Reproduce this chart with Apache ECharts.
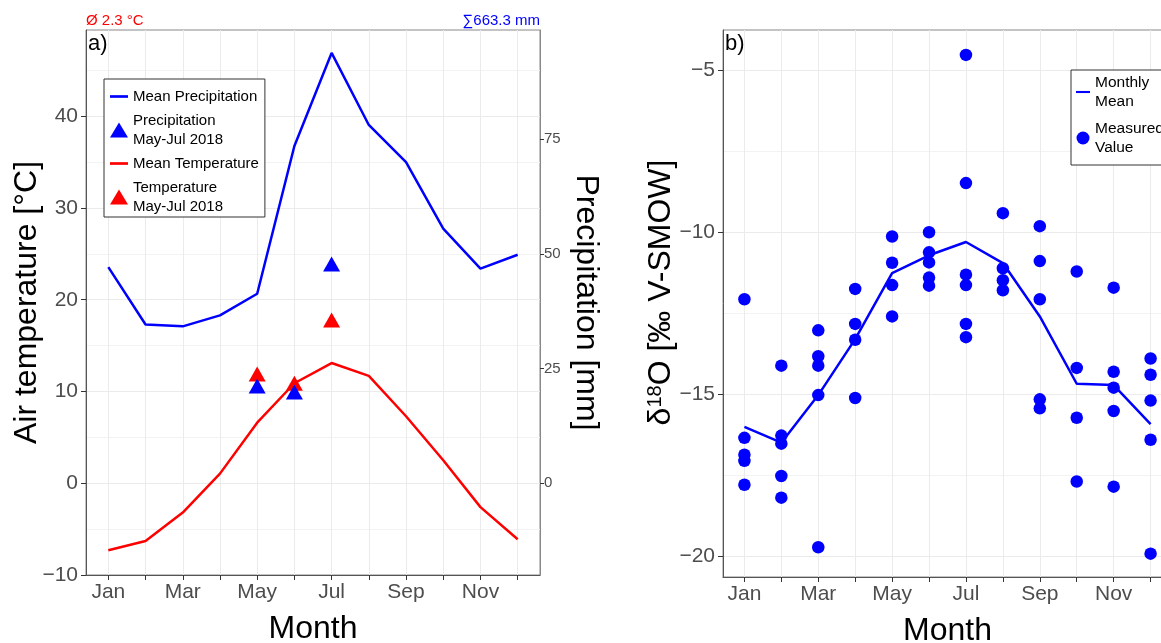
<!DOCTYPE html>
<html>
<head>
<meta charset="utf-8">
<script src="https://cdn.jsdelivr.net/npm/echarts@6.0.0/dist/echarts.min.js"></script>
<style>
html, body { margin: 0; padding: 0; background: #fff; }
#chart { width: 1161px; height: 643px; }
</style>
</head>
<body>
<div id="chart"></div>
<script>
// ---- data ----
const months = [1, 2, 3, 4, 5, 6, 7, 8, 9, 10, 11, 12]
const monthNames = ['Jan', 'Feb', 'Mar', 'Apr', 'May', 'Jun', 'Jul', 'Aug', 'Sep', 'Oct', 'Nov', 'Dec']
const labelMonths = [1, 3, 5, 7, 9, 11]

// panel a) climate
const meanTemp = [-7.3, -6.3, -3.2, 1.05, 6.6, 10.9, 13.1, 11.7, 7.3, 2.5, -2.6, -6.1]
const meanPrecip = [47.1, 34.6, 34.2, 36.6, 41.3, 73.5, 93.8, 78.1, 70.0, 55.5, 46.8, 49.8]
const obsMonths = [5, 6, 7]
const temp2018 = [11.9, 10.9, 17.8]
const precip2018 = [21.2, 19.9, 47.8]
const tempTicks = [-10, 0, 10, 20, 30, 40]
const tempMinor = [-5, 5, 15, 25, 35, 45]
const precipTicks = [0, 25, 50, 75]
const summaryTemp = 'Ø 2.3 °C'
const summaryPrecip = '∑663.3 mm'

// panel b) d18O
const isoMean = [-16.01, -16.5, -15.03, -13.3, -11.26, -10.71, -10.3, -10.95, -12.6, -14.68, -14.72, -15.93]
const isoMeasured = [
  [-12.07, -16.35, -16.87, -17.06, -17.8],
  [-14.12, -16.28, -16.53, -17.53, -18.2],
  [-13.03, -13.83, -14.12, -15.03, -19.73],
  [-11.75, -12.83, -13.32, -15.12],
  [-10.13, -10.94, -11.63, -12.6],
  [-10.0, -10.62, -10.93, -11.4, -11.65],
  [-4.52, -8.48, -11.31, -11.63, -12.83, -13.24],
  [-9.41, -11.11, -11.48, -11.79],
  [-9.81, -10.89, -12.07, -15.16, -15.44],
  [-11.21, -14.19, -15.73, -17.7],
  [-11.71, -14.31, -14.8, -15.52, -17.86],
  [-13.9, -14.4, -15.2, -16.41, -19.93]
]
const isoTicks = [-20, -15, -10, -5]
const isoMinor = [-17.5, -12.5, -7.5]

const legendText = {
  'Mean Precipitation': 'Mean Precipitation',
  'Precipitation 2018': 'Precipitation\nMay-Jul 2018',
  'Mean Temperature': 'Mean Temperature',
  'Temperature 2018': 'Temperature\nMay-Jul 2018',
  'Monthly Mean': 'Monthly\nMean',
  'Measured Value': 'Measured\nValue'
}

// ---- chart ----
const font = 'Liberation Sans, Arial, sans-serif'
const blue = '#0000ff'
const red = '#ff0000'
const linePath = 'path://M0,0L20,0L20,3L0,3Z'
const minus = v => String(v).replace('-', '\u2212')

const monthAxis = (grid, min, max) => ({
  type: 'value', gridIndex: grid, min: min, max: max,
  axisLine: { show: true, onZero: false, lineStyle: { color: '#555' } },
  axisTick: { show: true, length: 5, customValues: months, lineStyle: { color: '#333' } },
  axisLabel: { customValues: labelMonths, formatter: v => monthNames[v - 1], fontSize: 21, color: '#4d4d4d', margin: 7, fontFamily: font },
  splitLine: { show: true, customValues: months, lineStyle: { color: '#ebebeb' } },
  name: 'Month', nameLocation: 'middle', nameGap: 38, nameMoveOverlap: false,
  nameTextStyle: { fontSize: 32, color: '#000', fontFamily: font }
})

// hidden axis that only draws the lighter minor grid lines
const minorAxis = (grid, min, max, values) => ({
  type: 'value', gridIndex: grid, min: min, max: max, position: 'left',
  axisLine: { show: false }, axisLabel: { show: false },
  axisTick: { show: false, customValues: values },
  splitLine: { show: true, customValues: values, lineStyle: { color: '#f3f3f3' } }
})

const isoPoints = []
isoMeasured.forEach((vals, i) => vals.forEach(v => isoPoints.push([months[i], v])))

const option = {
  animation: false,
  title: [
    { text: summaryTemp, left: 86, top: 13, padding: 0, textStyle: { color: red, fontSize: 15, fontWeight: 'normal', fontFamily: font } },
    { text: summaryPrecip, right: 621, top: 13, padding: 0, textStyle: { color: blue, fontSize: 15, fontWeight: 'normal', fontFamily: font } },
    { text: 'a)', left: 88, top: 33, padding: 0, textStyle: { color: '#000', fontSize: 22, fontWeight: 'normal', fontFamily: font } },
    { text: 'b)', left: 725, top: 33, padding: 0, textStyle: { color: '#000', fontSize: 22, fontWeight: 'normal', fontFamily: font } }
  ],
  grid: [
    { left: 86, top: 30, width: 454, height: 545, show: true, borderColor: '#888', borderWidth: 1, outerBoundsMode: 'none', containLabel: false },
    { left: 723, top: 30, width: 449, height: 547, show: true, borderColor: '#888', borderWidth: 1, outerBoundsMode: 'none', containLabel: false }
  ],
  xAxis: [monthAxis(0, 0.4, 12.6), monthAxis(1, 0.42, 12.58)],
  yAxis: [
    {
      type: 'value', gridIndex: 0, min: -10, max: 49.4, position: 'left',
      axisLine: { show: true, onZero: false, lineStyle: { color: '#555' } },
      axisTick: { show: true, length: 5, customValues: tempTicks, lineStyle: { color: '#333' } },
      axisLabel: { customValues: tempTicks, formatter: minus, fontSize: 21, color: '#4d4d4d', margin: 8, fontFamily: font },
      splitLine: { show: true, customValues: tempTicks, lineStyle: { color: '#ebebeb' } },
      name: 'Air temperature [°C]', nameLocation: 'middle', nameGap: 43, nameMoveOverlap: false,
      nameTextStyle: { fontSize: 32, color: '#000', fontFamily: font }
    },
    {
      type: 'value', gridIndex: 0, min: -20, max: 98.8, position: 'right',
      axisLine: { show: true, onZero: false, lineStyle: { color: '#888' } },
      axisTick: { show: true, length: 4, customValues: precipTicks, lineStyle: { color: '#333' } },
      axisLabel: { customValues: precipTicks, fontSize: 15, color: '#4d4d4d', margin: 4, fontFamily: font },
      splitLine: { show: false },
      name: 'Precipitation [mm]', nameLocation: 'middle', nameGap: 30, nameRotate: -90, nameMoveOverlap: false,
      nameTextStyle: { fontSize: 32, color: '#000', fontFamily: font }
    },
    minorAxis(0, -10, 49.4, tempMinor),
    {
      type: 'value', gridIndex: 1, min: -20.65, max: -3.75, position: 'left',
      axisLine: { show: true, onZero: false, lineStyle: { color: '#555' } },
      axisTick: { show: true, length: 5, customValues: isoTicks, lineStyle: { color: '#333' } },
      axisLabel: { customValues: isoTicks, formatter: minus, fontSize: 21, color: '#4d4d4d', margin: 8, fontFamily: font },
      splitLine: { show: true, customValues: isoTicks, lineStyle: { color: '#ebebeb' } },
      name: '{d|δ}{s|18}{d|O [‰ V-SMOW]}', nameLocation: 'middle', nameGap: 46, nameMoveOverlap: false,
      nameTextStyle: {
        padding: [0, 0, 0, 22],
        rich: {
          d: { fontSize: 32, color: '#000', fontFamily: font },
          s: { fontSize: 20, color: '#000', fontFamily: font, verticalAlign: 'top', lineHeight: 20 }
        }
      }
    },
    minorAxis(1, -20.65, -3.75, isoMinor)
  ],
  legend: [
    {
      orient: 'vertical', left: 104, top: 79, selectedMode: false,
      data: [
        { name: 'Mean Precipitation', icon: linePath, itemStyle: { color: blue, borderWidth: 0 } },
        { name: 'Precipitation 2018', icon: 'triangle', itemStyle: { color: blue, borderWidth: 0 } },
        { name: 'Mean Temperature', icon: linePath, itemStyle: { color: red, borderWidth: 0 } },
        { name: 'Temperature 2018', icon: 'triangle', itemStyle: { color: red, borderWidth: 0 } }
      ],
      formatter: n => legendText[n],
      itemWidth: 18, itemHeight: 15, itemGap: 5,
      padding: [8, 6, 1, 6],
      borderColor: '#333', borderWidth: 1, borderRadius: 0, backgroundColor: '#fff',
      textStyle: { fontSize: 15, lineHeight: 19, color: '#000', fontFamily: font }
    },
    {
      orient: 'vertical', left: 1071, top: 70, selectedMode: false,
      data: [
        { name: 'Monthly Mean', icon: linePath, itemStyle: { color: blue, borderWidth: 0 } },
        { name: 'Measured Value', icon: 'circle', itemStyle: { color: blue, borderWidth: 0 } }
      ],
      formatter: n => legendText[n],
      itemWidth: 14, itemHeight: 13, itemGap: 8,
      padding: [3, 20, 8, 5],
      borderColor: '#333', borderWidth: 1, borderRadius: 0, backgroundColor: '#fff',
      textStyle: { fontSize: 15.5, lineHeight: 19, color: '#000', fontFamily: font }
    }
  ],
  series: [
    {
      name: 'Mean Temperature', type: 'line', xAxisIndex: 0, yAxisIndex: 0,
      data: months.map((m, i) => [m, meanTemp[i]]),
      showSymbol: false, lineStyle: { color: red, width: 2.5 }, itemStyle: { color: red }
    },
    {
      name: 'Mean Precipitation', type: 'line', xAxisIndex: 0, yAxisIndex: 1,
      data: months.map((m, i) => [m, meanPrecip[i]]),
      showSymbol: false, lineStyle: { color: blue, width: 2.5 }, itemStyle: { color: blue }
    },
    {
      name: 'Temperature 2018', type: 'scatter', xAxisIndex: 0, yAxisIndex: 0,
      data: obsMonths.map((m, i) => [m, temp2018[i]]),
      symbol: 'triangle', symbolSize: [17, 15], itemStyle: { color: red, opacity: 1 }
    },
    {
      name: 'Precipitation 2018', type: 'scatter', xAxisIndex: 0, yAxisIndex: 1,
      data: obsMonths.map((m, i) => [m, precip2018[i]]),
      symbol: 'triangle', symbolSize: [17, 15], itemStyle: { color: blue, opacity: 1 }
    },
    {
      name: 'Monthly Mean', type: 'line', xAxisIndex: 1, yAxisIndex: 3,
      data: months.map((m, i) => [m, isoMean[i]]),
      showSymbol: false, lineStyle: { color: blue, width: 2.5 }, itemStyle: { color: blue }
    },
    {
      name: 'Measured Value', type: 'scatter', xAxisIndex: 1, yAxisIndex: 3,
      data: isoPoints,
      symbol: 'circle', symbolSize: 12.5, itemStyle: { color: blue, opacity: 1 }
    }
  ]
}

const myChart = echarts.init(document.getElementById('chart'))
myChart.setOption(option)
</script>
</body>
</html>
